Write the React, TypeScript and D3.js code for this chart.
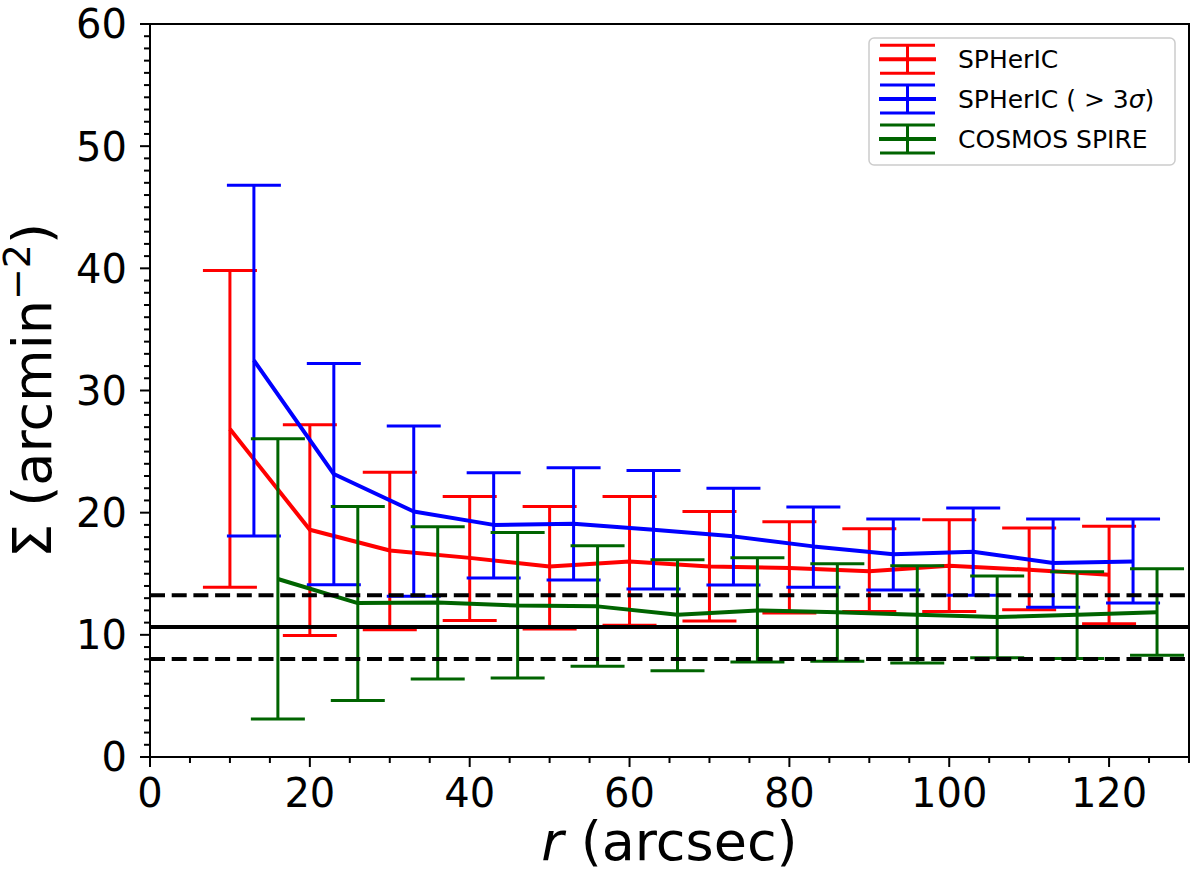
import React, { useEffect, useRef } from 'react';
import * as d3 from 'd3';

// --- data ---
const redR = [10, 20, 30, 40, 50, 60, 70, 80, 90, 100, 110, 120];
const redVal = [26.85, 18.6, 16.9, 16.3, 15.6, 16.0, 15.6, 15.47, 15.2, 15.66, 15.33, 14.92];
const redHi = [39.83, 27.2, 23.3, 21.33, 20.5, 21.33, 20.1, 19.26, 18.69, 19.42, 18.74, 18.88];
const redLo = [13.9, 9.95, 10.42, 11.18, 10.48, 10.78, 11.13, 11.78, 11.92, 11.92, 12.06, 10.91];

const blueR = [13, 23, 33, 43, 53, 63, 73, 83, 93, 103, 113, 123];
const blueVal = [32.47, 23.16, 20.1, 19.0, 19.1, 18.6, 18.06, 17.24, 16.59, 16.8, 15.88, 16.01];
const blueHi = [46.8, 32.2, 27.1, 23.27, 23.68, 23.46, 22.0, 20.46, 19.48, 20.38, 19.48, 19.48];
const blueLo = [18.09, 14.1, 13.15, 14.65, 14.49, 13.75, 14.08, 13.9, 13.67, 13.23, 12.25, 12.6];

const greenR = [16, 26, 36, 46, 56, 66, 76, 86, 96, 106, 116, 126];
const greenVal = [14.57, 12.6, 12.65, 12.4, 12.33, 11.65, 12.0, 11.84, 11.65, 11.46, 11.65, 11.84];
const greenHi = [26.05, 20.5, 18.85, 18.38, 17.3, 16.15, 16.31, 15.82, 15.66, 14.81, 15.17, 15.41];
const greenLo = [3.11, 4.63, 6.38, 6.46, 7.42, 7.06, 7.78, 7.83, 7.69, 8.13, 8.07, 8.32];

// field mean and its +/- 1 sigma band
const fieldMean = [10.64];
const fieldBand = [13.23, 8.02];

const legendLabels = ['SPHerIC', 'SPHerIC ( > 3σ)', 'COSMOS SPIRE'];
const xTicks = [0, 20, 40, 60, 80, 100, 120];
const yTicks = [0, 10, 20, 30, 40, 50, 60];

const App: React.FC = () => {
  const svgRef = useRef<SVGSVGElement | null>(null);

  useEffect(() => {
    if (!svgRef.current) return;
    const width = 1200;
    const height = 882;
    const plot = { left: 150, right: 1189, top: 24, bottom: 757 };
    const font = "'DejaVu Sans', sans-serif";

    const svg = d3.select(svgRef.current);
    svg.selectAll('*').remove();
    svg.attr('width', width).attr('height', height);

    const x = d3.scaleLinear().domain([0, 130]).range([plot.left, plot.right]);
    const y = d3.scaleLinear().domain([0, 60]).range([plot.bottom, plot.top]);

    const series = [
      { name: legendLabels[0], color: '#ff0000', r: redR, val: redVal, hi: redHi, lo: redLo },
      { name: legendLabels[1], color: '#0000ff', r: blueR, val: blueVal, hi: blueHi, lo: blueLo },
      { name: legendLabels[2], color: '#006400', r: greenR, val: greenVal, hi: greenHi, lo: greenLo },
    ];

    const capHalf = 27;
    const g = svg.append('g');

    // --- error bars + lines ---
    series.forEach(s => {
      const sg = g.append('g');
      const pts = s.r.map((r, i) => ({ r, v: s.val[i], hi: s.hi[i], lo: s.lo[i] }));
      sg.selectAll('line.bar').data(pts).enter().append('line')
        .attr('x1', d => x(d.r)).attr('x2', d => x(d.r))
        .attr('y1', d => y(d.lo)).attr('y2', d => y(d.hi))
        .attr('stroke', s.color).attr('stroke-width', 3);
      ['hi', 'lo'].forEach(k => {
        sg.selectAll(`line.cap-${k}`).data(pts).enter().append('line')
          .attr('x1', d => x(d.r) - capHalf).attr('x2', d => x(d.r) + capHalf)
          .attr('y1', d => y((d as any)[k])).attr('y2', d => y((d as any)[k]))
          .attr('stroke', s.color).attr('stroke-width', 3);
      });
      const line = d3.line<{ r: number; v: number }>().x(d => x(d.r)).y(d => y(d.v));
      sg.append('path').datum(pts).attr('d', line)
        .attr('fill', 'none').attr('stroke', s.color).attr('stroke-width', 4)
        .attr('stroke-linejoin', 'round');
    });

    // --- horizontal reference lines ---
    g.selectAll('line.mean').data(fieldMean).enter().append('line')
      .attr('x1', plot.left).attr('x2', plot.right)
      .attr('y1', d => y(d)).attr('y2', d => y(d))
      .attr('stroke', '#000').attr('stroke-width', 4);
    g.selectAll('line.band').data(fieldBand).enter().append('line')
      .attr('x1', plot.left).attr('x2', plot.right)
      .attr('y1', d => y(d)).attr('y2', d => y(d))
      .attr('stroke', '#000').attr('stroke-width', 4)
      .attr('stroke-dasharray', '15,6.7');

    // --- frame ---
    svg.append('rect')
      .attr('x', plot.left).attr('y', plot.top)
      .attr('width', plot.right - plot.left).attr('height', plot.bottom - plot.top)
      .attr('fill', 'none').attr('stroke', '#000').attr('stroke-width', 2);

    // --- ticks ---
    const ax = svg.append('g').attr('stroke', '#000').attr('stroke-width', 2);
    d3.range(0, 131, 5).forEach(v => {
      const major = v % 20 === 0;
      ax.append('line').attr('x1', x(v)).attr('x2', x(v))
        .attr('y1', plot.bottom).attr('y2', plot.bottom + (major ? 10 : 6));
    });
    d3.range(0, 61, 1).forEach(v => {
      const major = v % 10 === 0;
      ax.append('line').attr('x1', plot.left).attr('x2', plot.left - (major ? 10 : 6))
        .attr('y1', y(v)).attr('y2', y(v));
    });

    svg.selectAll('text.xt').data(xTicks).enter().append('text')
      .attr('x', d => x(d)).attr('y', 807)
      .attr('text-anchor', 'middle')
      .attr('font-family', font).attr('font-size', 40).attr('fill', '#000')
      .text(d => d);
    svg.selectAll('text.yt').data(yTicks).enter().append('text')
      .attr('x', 127).attr('y', d => y(d)).attr('dy', '0.36em')
      .attr('text-anchor', 'end')
      .attr('font-family', font).attr('font-size', 40).attr('fill', '#000')
      .text(d => d);

    // --- axis labels ---
    const xl = svg.append('text')
      .attr('x', (plot.left + plot.right) / 2).attr('y', 860)
      .attr('text-anchor', 'middle')
      .attr('font-family', font).attr('font-size', 54).attr('fill', '#000');
    xl.append('tspan').attr('font-style', 'italic').text('r');
    xl.append('tspan').text(' (arcsec)');

    const yl = svg.append('text')
      .attr('transform', `translate(51, ${(plot.top + plot.bottom) / 2}) rotate(-90)`)
      .attr('text-anchor', 'middle')
      .attr('font-family', font).attr('font-size', 54).attr('fill', '#000');
    yl.append('tspan').text('Σ (arcmin');
    yl.append('tspan').attr('font-size', 38).attr('dy', -21).text('−2');
    yl.append('tspan').attr('dy', 21).text(')');

    // --- legend ---
    const lg = svg.append('g');
    lg.append('rect')
      .attr('x', 869).attr('y', 38).attr('width', 306).attr('height', 127)
      .attr('rx', 5).attr('fill', '#fff').attr('fill-opacity', 0.8)
      .attr('stroke', '#cccccc').attr('stroke-width', 1.5);
    series.forEach((s, i) => {
      const cy = 59.3 + i * 39.8;
      const h = lg.append('g').attr('stroke', s.color).attr('stroke-width', 3);
      h.append('line').attr('x1', 879).attr('x2', 936).attr('y1', cy).attr('y2', cy).attr('stroke-width', 4);
      h.append('line').attr('x1', 907.5).attr('x2', 907.5).attr('y1', cy - 14).attr('y2', cy + 14);
      h.append('line').attr('x1', 880).attr('x2', 935).attr('y1', cy - 14).attr('y2', cy - 14);
      h.append('line').attr('x1', 880).attr('x2', 935).attr('y1', cy + 14).attr('y2', cy + 14);
      const t = lg.append('text')
        .attr('x', 958).attr('y', cy + 9)
        .attr('font-family', font).attr('font-size', 25).attr('fill', '#000');
      const parts = s.name.split('σ');
      t.append('tspan').text(parts[0]);
      if (parts.length > 1) {
        t.append('tspan').attr('font-style', 'italic').text('σ');
        t.append('tspan').text(parts[1]);
      }
    });
  }, []);

  return (
    <svg
      ref={svgRef}
      width={1200}
      height={882}
      style={{ position: 'absolute', left: 0, top: 0, background: '#fff' }}
    />
  );
};

export default App;
